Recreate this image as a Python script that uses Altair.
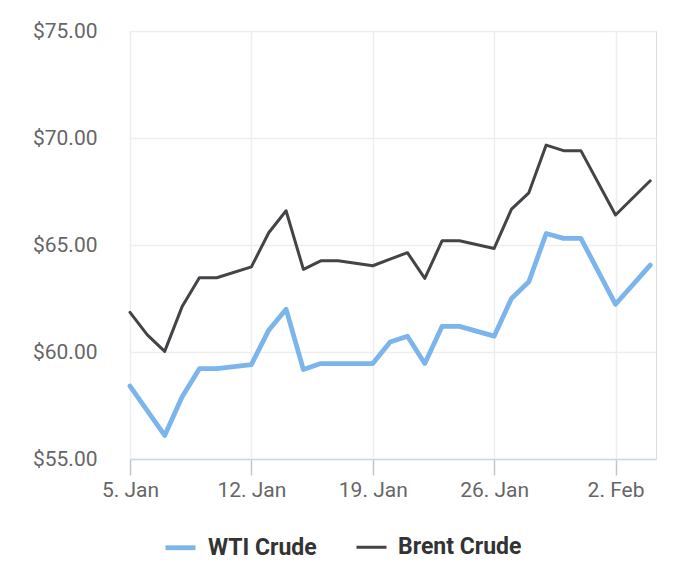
import altair as alt
import pandas as pd

# Data
wti_dates = ["2018-01-05", "2018-01-07", "2018-01-08", "2018-01-09", "2018-01-10",
             "2018-01-12", "2018-01-13", "2018-01-14", "2018-01-15", "2018-01-16",
             "2018-01-17", "2018-01-19", "2018-01-20", "2018-01-21", "2018-01-22",
             "2018-01-23", "2018-01-24", "2018-01-26", "2018-01-27", "2018-01-28",
             "2018-01-29", "2018-01-30", "2018-01-31", "2018-02-02", "2018-02-04"]
wti_prices = [58.41, 56.10, 57.90, 59.22, 59.22,
              59.41, 61.02, 62.00, 59.18, 59.46,
              59.46, 59.46, 60.47, 60.74, 59.46,
              61.20, 61.20, 60.74, 62.50, 63.28,
              65.54, 65.31, 65.31, 62.23, 64.06]

brent_dates = ["2018-01-05", "2018-01-06", "2018-01-07", "2018-01-08", "2018-01-09",
               "2018-01-10", "2018-01-12", "2018-01-13", "2018-01-14", "2018-01-15",
               "2018-01-16", "2018-01-17", "2018-01-19", "2018-01-20", "2018-01-21",
               "2018-01-22", "2018-01-23", "2018-01-24", "2018-01-26", "2018-01-27",
               "2018-01-28", "2018-01-29", "2018-01-30", "2018-01-31", "2018-02-02",
               "2018-02-04"]
brent_prices = [61.85, 60.80, 60.03, 62.11, 63.47,
                63.47, 63.98, 65.57, 66.60, 63.86,
                64.26, 64.26, 64.03, 64.34, 64.64,
                63.44, 65.20, 65.20, 64.84, 66.68,
                67.44, 69.67, 69.41, 69.41, 66.40,
                68.00]

series_names = ["WTI Crude", "Brent Crude"]
series_colors = ["#7cb5ec", "#434348"]
y_ticks = [55, 60, 65, 70, 75]

rows = []
for d, p in zip(wti_dates, wti_prices):
    rows.append({"series": "WTI Crude", "date": d, "price": p})
for d, p in zip(brent_dates, brent_prices):
    rows.append({"series": "Brent Crude", "date": d, "price": p})
df = pd.DataFrame(rows)

FONT = "Roboto"

x_ticks = [alt.DateTime(year=2018, month=1, date=5, utc=True),
           alt.DateTime(year=2018, month=1, date=12, utc=True),
           alt.DateTime(year=2018, month=1, date=19, utc=True),
           alt.DateTime(year=2018, month=1, date=26, utc=True),
           alt.DateTime(year=2018, month=2, date=2, utc=True)]

chart = alt.Chart(df).mark_line(strokeJoin="round", strokeCap="round").encode(
    x=alt.X("date:T",
            scale=alt.Scale(type="utc",
                            domain=[alt.DateTime(year=2018, month=1, date=5, utc=True),
                                    alt.DateTime(year=2018, month=2, date=4, hours=8, utc=True)]),
            axis=alt.Axis(title=None, values=x_ticks, format="%-d. %b",
                          labelFont=FONT, labelFontSize=21, labelColor="#666666",
                          domainColor="#ccd6eb", domainWidth=1.5,
                          tickColor="#c4c4c4", tickSize=16, tickWidth=1.5,
                          labelPadding=4, grid=True, gridColor="#eeeeee", gridWidth=1.5,
                          labelFlush=False)),
    y=alt.Y("price:Q",
            scale=alt.Scale(domain=[55, 75], nice=False, zero=False),
            axis=alt.Axis(title=None, values=y_ticks, format="$.2f",
                          labelFont=FONT, labelFontSize=21, labelColor="#666666",
                          domain=False, ticks=False, tickSize=0, labelPadding=33,
                          grid=True, gridColor="#eeeeee", gridWidth=1.5)),
    color=alt.Color("series:N",
                    scale=alt.Scale(domain=series_names, range=series_colors),
                    legend=alt.Legend(title=None, orient="none", direction="horizontal",
                                      legendX=33, legendY=499,
                                      symbolType="stroke", symbolSize=900,
                                      symbolStrokeWidth=4,
                                      labelFont=FONT, labelFontSize=23,
                                      labelFontWeight="bold", labelColor="#333333",
                                      labelOffset=10, columnPadding=33, padding=0)),
    strokeWidth=alt.StrokeWidth("series:N",
                                scale=alt.Scale(domain=series_names, range=[4.8, 3]),
                                legend=None),
    order=alt.Order("date:T"),
).properties(
    width=526,
    height=428,
    autosize=alt.AutoSizeParams(type="none"),
    padding={"left": 122, "top": 23, "right": 30, "bottom": 120},
).configure_view(stroke=None).configure(background="white")

chart.save("out.html", embed_options={"renderer": "svg", "actions": False})
